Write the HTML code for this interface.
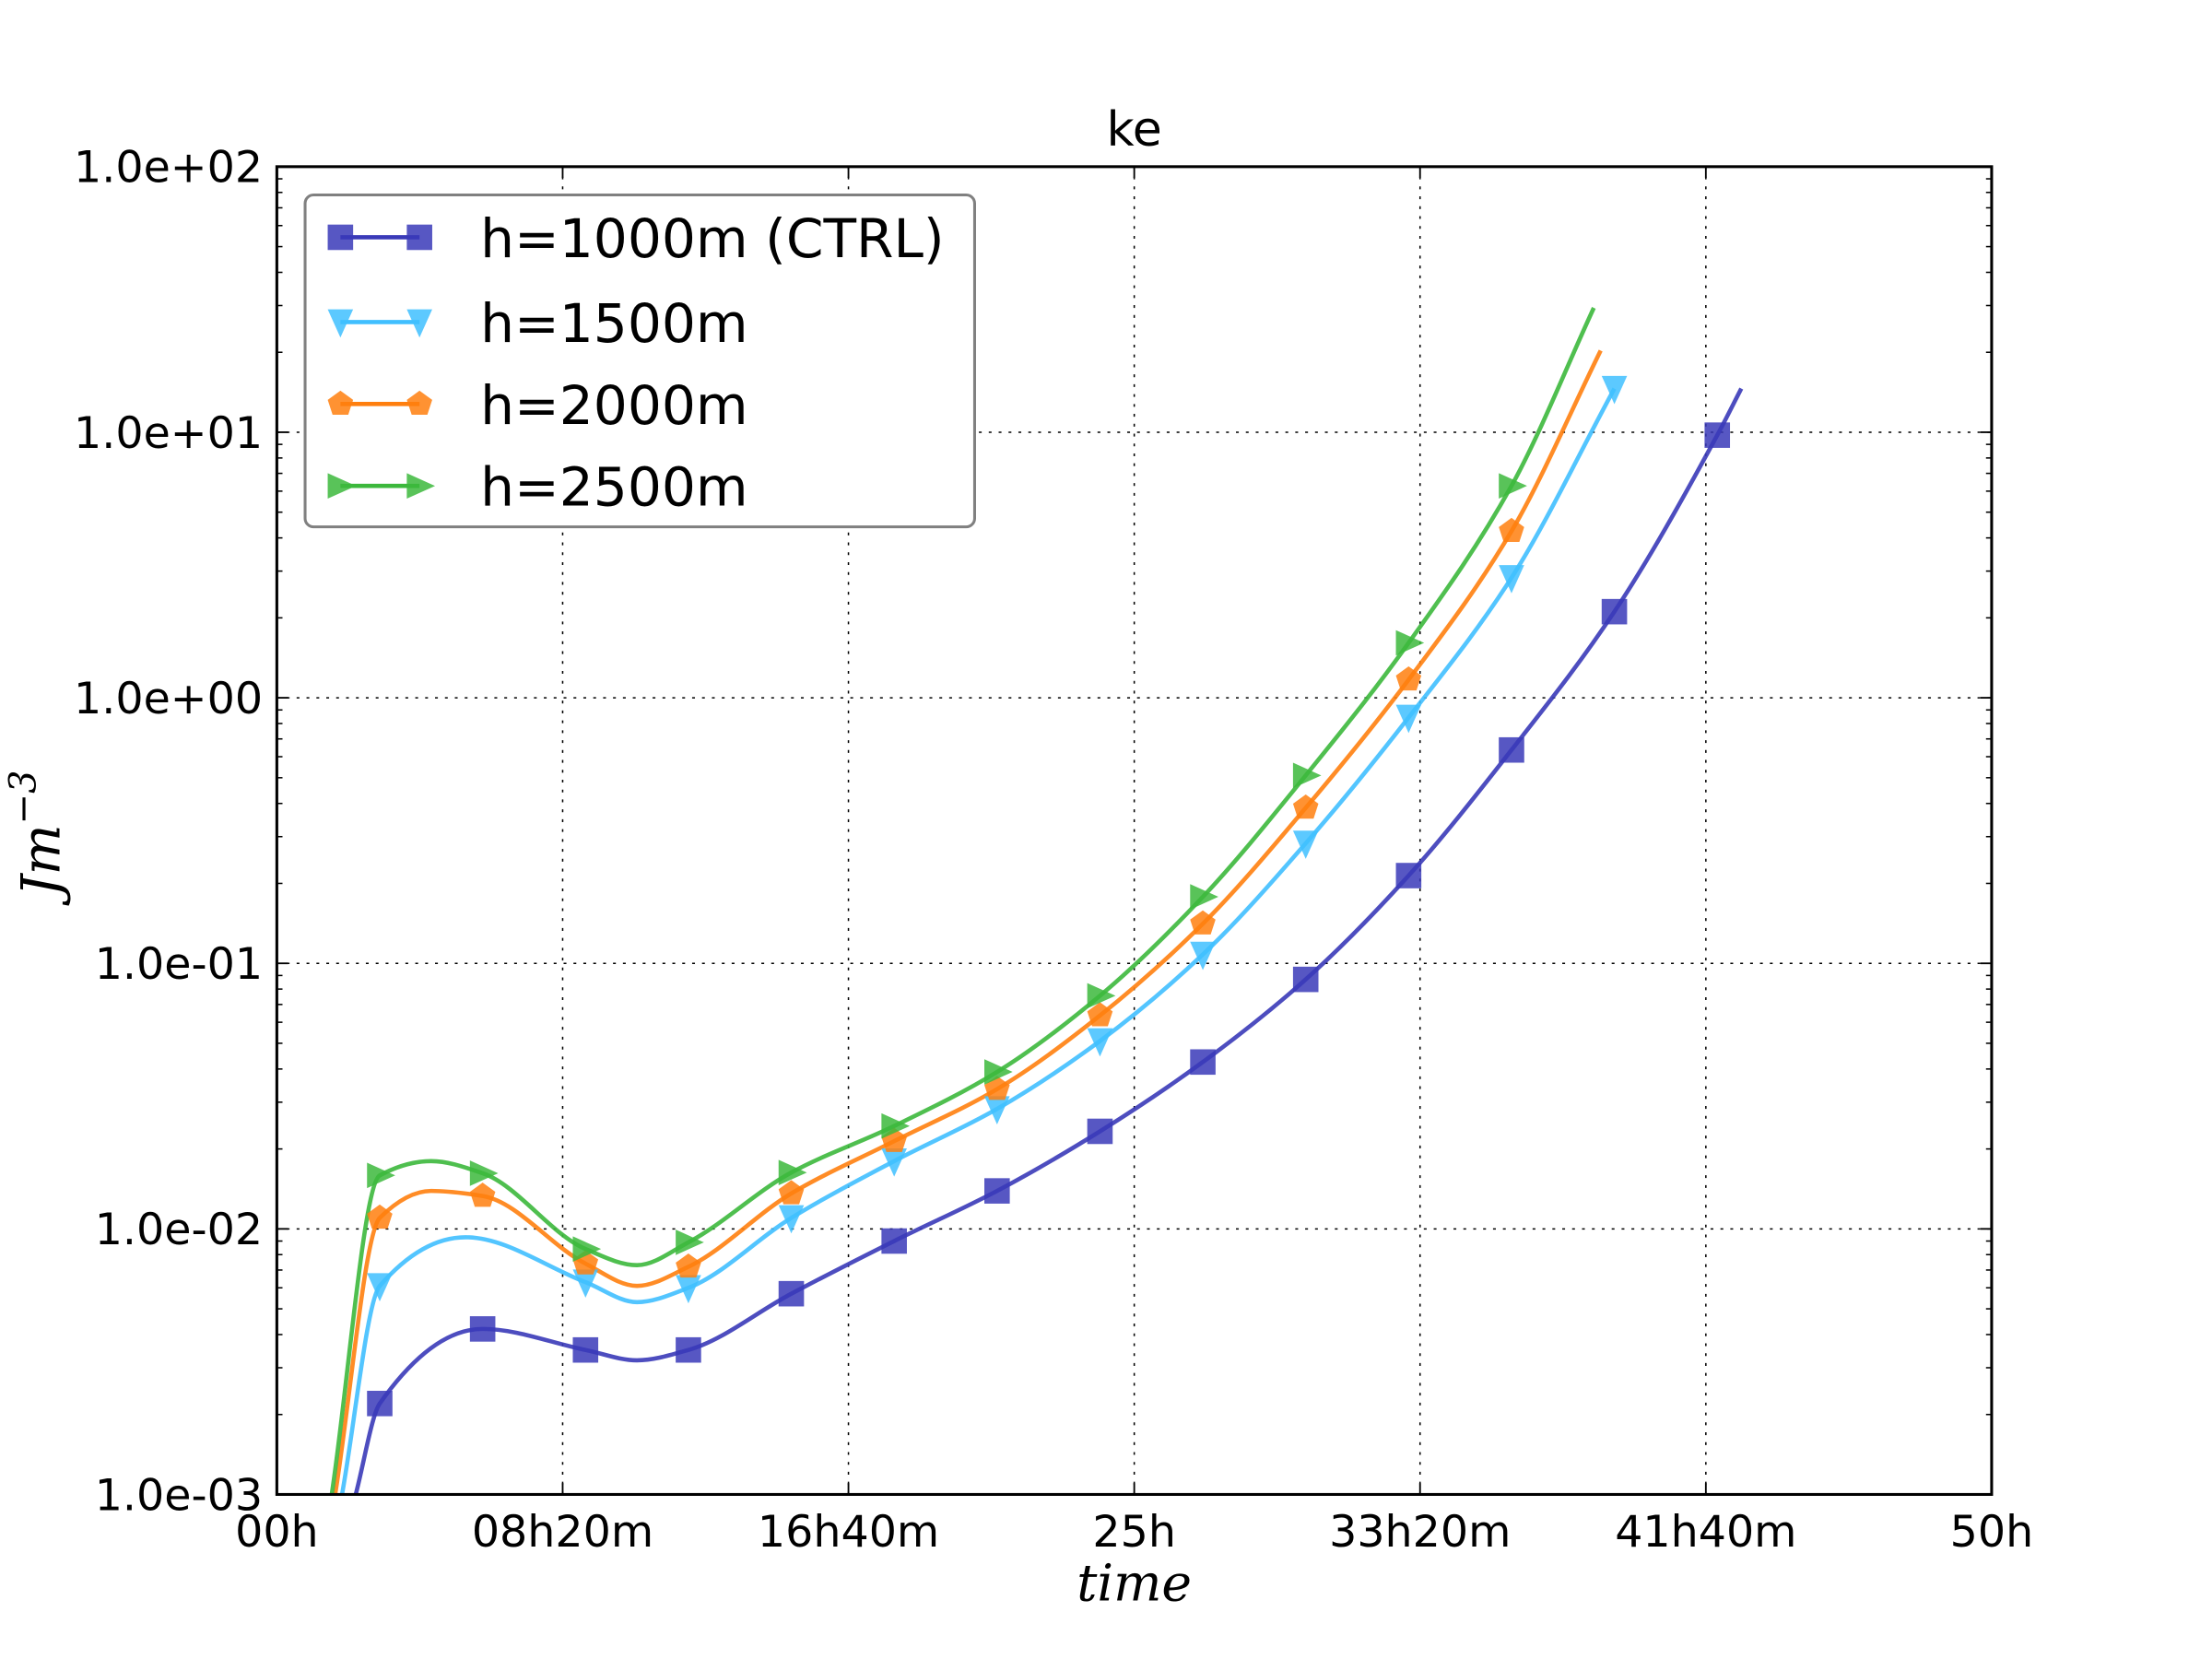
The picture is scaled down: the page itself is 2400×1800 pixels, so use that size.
<!DOCTYPE html>
<html><head><meta charset="utf-8">
<style>
html,body{margin:0;padding:0;background:#fff;}
svg{display:block;}
text{font-family:"DejaVu Sans","Liberation Sans",sans-serif;}
</style></head>
<body>
<svg id="chart" xmlns="http://www.w3.org/2000/svg" width="2400" height="1800" viewBox="0 0 1566 1174.5">
<defs><clipPath id="plotclip"><rect x="196" y="118" width="1214" height="940"/></clipPath></defs>
<rect x="0" y="0" width="1566" height="1175" fill="#fff"/>
<g id="grid"></g>
<g id="ticks"></g>
<g id="series" clip-path="url(#plotclip)"></g>
<g id="markers"></g>
<rect x="196" y="118" width="1214" height="940" fill="none" stroke="#000" stroke-width="2"/>
<text x="803" y="103" font-size="34" text-anchor="middle">ke</text>
<text x="803" y="1133" font-size="36" font-style="italic" text-anchor="middle" style="font-family:'DejaVu Serif','Liberation Serif',serif">time</text>
<text transform="translate(42,590) rotate(-90)" font-size="38" font-style="italic" text-anchor="middle" style="font-family:'DejaVu Serif','Liberation Serif',serif">Jm<tspan dy="-17" font-size="26">−3</tspan></text>
<g id="legend"></g>
</svg>
<script>
const xTickHours = [0, 8.3333, 16.6667, 25, 33.3333, 41.6667, 50];
const xTickLabels = ["00h", "08h20m", "16h40m", "25h", "33h20m", "41h40m", "50h"];
const yTickExps = [-3, -2, -1, 0, 1, 2];
const yTickLabels = ["1.0e-03", "1.0e-02", "1.0e-01", "1.0e+00", "1.0e+01", "1.0e+02"];
const seriesNames = ["h=1000m (CTRL)", "h=1500m", "h=2000m", "h=2500m"];
const t1000 = [2.3, 3, 6, 9, 10.5, 12, 15, 18, 21, 24, 27, 30, 33, 36, 39, 42, 42.7];
const v1000 = [0.001, 0.0022, 0.0042, 0.0035, 0.0032, 0.0035, 0.0057, 0.009, 0.0139, 0.0233, 0.0425, 0.087, 0.214, 0.636, 2.11, 9.75, 14.6];
const t1500 = [1.9, 3, 5.5, 9, 10.5, 12, 15, 18, 21, 24, 27, 30, 33, 36, 39];
const v1500 = [0.001, 0.0061, 0.0093, 0.0063, 0.0053, 0.006, 0.011, 0.018, 0.0283, 0.051, 0.108, 0.283, 0.843, 2.83, 14.6];
const t2000 = [1.7, 3, 4.5, 6, 9, 10.5, 12, 15, 18, 21, 24, 27, 30, 33, 36, 38.6];
const v2000 = [0.001, 0.011, 0.0139, 0.0133, 0.0074, 0.0061, 0.0072, 0.0136, 0.0214, 0.0336, 0.0636, 0.141, 0.385, 1.17, 4.24, 20.3];
const t2500 = [1.6, 3, 4.5, 6, 9, 10.5, 12, 15, 18, 21, 24, 27, 30, 33, 36, 38.4];
const v2500 = [0.001, 0.0159, 0.018, 0.0162, 0.0084, 0.0073, 0.0089, 0.0163, 0.0244, 0.039, 0.0755, 0.178, 0.51, 1.61, 6.28, 29.4];

const NS = "http://www.w3.org/2000/svg";
const X0 = 196, X1 = 1410, Y0 = 1058, Y1 = 118;
function xs(h){ return X0 + (h / 50) * (X1 - X0); }
function ys(v){ return Y0 - (Math.log10(v) + 3) / 5 * (Y0 - Y1); }
function mk(tag, attrs, parent){ const e = document.createElementNS(NS, tag); for (const k in attrs) e.setAttribute(k, attrs[k]); parent.appendChild(e); return e; }

const grid = document.getElementById('grid');
const ticks = document.getElementById('ticks');
xTickHours.forEach((h, i) => {
  const x = xs(h);
  if (i > 0 && i < xTickHours.length - 1) {
    const g = mk('line', {x1:x, x2:x, y1:Y1, y2:Y0, stroke:'#000', 'stroke-width':1, 'stroke-dasharray':'2,5'}, grid);
    
    
  }
  mk('line', {x1:x, x2:x, y1:Y0, y2:Y0-8, stroke:'#000', 'stroke-width':1.2}, ticks);
  mk('line', {x1:x, x2:x, y1:Y1, y2:Y1+8, stroke:'#000', 'stroke-width':1.2}, ticks);
  const t = mk('text', {x:x, y:Y0+37, 'font-size':31, 'text-anchor':'middle'}, ticks);
  t.textContent = xTickLabels[i];
  
  
});
yTickExps.forEach((e, i) => {
  const y = ys(Math.pow(10, e));
  if (i > 0 && i < yTickExps.length - 1) {
    const g = mk('line', {x1:X0, x2:X1, y1:y, y2:y, stroke:'#000', 'stroke-width':1, 'stroke-dasharray':'2,5'}, grid);
    
    
  }
  mk('line', {x1:X0, x2:X0+8, y1:y, y2:y, stroke:'#000', 'stroke-width':1.2}, ticks);
  mk('line', {x1:X1, x2:X1-8, y1:y, y2:y, stroke:'#000', 'stroke-width':1.2}, ticks);
  if (i < yTickExps.length - 1) {
    for (let m = 2; m <= 9; m++) {
      const ym = ys(m * Math.pow(10, e));
      mk('line', {x1:X0, x2:X0+4, y1:ym, y2:ym, stroke:'#000', 'stroke-width':1}, ticks);
      mk('line', {x1:X1, x2:X1-4, y1:ym, y2:ym, stroke:'#000', 'stroke-width':1}, ticks);
    }
  }
  const t = mk('text', {x:X0-10, y:y+11, 'font-size':31, 'text-anchor':'end'}, ticks);
  t.textContent = yTickLabels[i];
  
  
});

const colors = ['#3a3ab8', '#40bfff', '#ff7f0e', '#3cb83c'];
const shapes = ['square', 'tri-down', 'pentagon', 'tri-right'];
const allT = [t1000, t1500, t2000, t2500];
const allV = [v1000, v1500, v2000, v2500];

// monotone cubic (Fritsch-Carlson) in pixel space
function pathFor(pts){
  const n = pts.length;
  const dx = [], s = [];
  for (let i = 0; i < n-1; i++) { dx.push(pts[i+1][0]-pts[i][0]); s.push((pts[i+1][1]-pts[i][1])/dx[i]); }
  const m = new Array(n);
  m[0] = s[0]; m[n-1] = s[n-2];
  for (let i = 1; i < n-1; i++) {
    if (s[i-1]*s[i] <= 0) m[i] = 0;
    else { const w1 = 2*dx[i]+dx[i-1], w2 = dx[i]+2*dx[i-1]; m[i] = (w1+w2)/(w1/s[i-1]+w2/s[i]); }
  }
  let d = `M${pts[0][0]},${pts[0][1]}`;
  for (let i = 0; i < n-1; i++) {
    const h = dx[i]/3;
    d += ` C${pts[i][0]+h},${pts[i][1]+m[i]*h} ${pts[i+1][0]-h},${pts[i+1][1]-m[i+1]*h} ${pts[i+1][0]},${pts[i+1][1]}`;
  }
  return d;
}
function marker(shape, x, y, color, parent){
  const s = 9;
  let e;
  if (shape === 'square') e = mk('rect', {x:x-s, y:y-s, width:2*s, height:2*s}, parent);
  else if (shape === 'tri-down') e = mk('polygon', {points:`${x-s},${y-s} ${x+s},${y-s} ${x},${y+s+2}`}, parent);
  else if (shape === 'tri-right') e = mk('polygon', {points:`${x-s},${y-s} ${x+s+2},${y} ${x-s},${y+s}`}, parent);
  else {
    const pts = [];
    for (let k = 0; k < 5; k++) { const a = -Math.PI/2 + k*2*Math.PI/5; pts.push(`${x+s*1.05*Math.cos(a)},${y+s*1.05*Math.sin(a)}`); }
    e = mk('polygon', {points:pts.join(' ')}, parent);
  }
  e.setAttribute('fill', color);
  e.setAttribute('fill-opacity', '0.85');
  return e;
}
const sg = document.getElementById('series');
const mg = document.getElementById('markers');
allT.forEach((ts, si) => {
  const pts = ts.map((t, j) => [xs(t), ys(allV[si][j])]);
  const p = mk('path', {d:pathFor(pts), fill:'none', stroke:colors[si], 'stroke-width':3, 'stroke-opacity':0.9}, sg);
  
  
  ts.forEach((t, j) => {
    if (Math.abs(t/3 - Math.round(t/3)) < 1e-6) {
      const m = marker(shapes[si], xs(t), ys(allV[si][j]), colors[si], mg);
      
      
    }
  });
});

const lg = document.getElementById('legend');
const box = mk('rect', {x:216, y:138, width:474, height:235, rx:6, fill:'#fff', stroke:'#808080', 'stroke-width':2}, lg);


const ly = [168, 228, 286, 344];
seriesNames.forEach((n, i) => {
  const y = ly[i];
  const ln = mk('line', {x1:241, x2:297, y1:y, y2:y, stroke:colors[i], 'stroke-width':3}, lg);
  
  
  const a = marker(shapes[i], 241, y, colors[i], lg);
  
  
  const b = marker(shapes[i], 297, y, colors[i], lg);
  
  
  const t = mk('text', {x:340, y:y+14, 'font-size':38}, lg);
  t.textContent = n;
  
  
});
</script>
</body></html>
